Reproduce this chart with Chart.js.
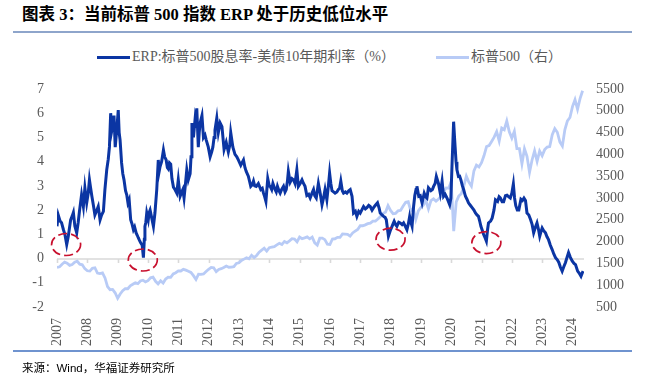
<!DOCTYPE html>
<html>
<head>
<meta charset="utf-8">
<script src="https://cdn.jsdelivr.net/npm/chart.js@4.4.1/dist/chart.umd.min.js"></script>
<style>
  html, body { margin: 0; padding: 0; background: #fff; }
  body { width: 645px; height: 381px; position: relative; overflow: hidden;
         font-family: "Liberation Serif", "Noto Sans CJK SC", serif; }
  #title { position: absolute; left: 22px; top: 5px; font-size: 16.5px; line-height: 20px;
           font-weight: bold; color: #000; white-space: nowrap; }
  .rule { position: absolute; left: 13px; width: 619px; height: 2px; }
  #legend { position: absolute; top: 49px; left: 97px; display: flex; align-items: center;
            font-size: 14px; line-height: 16px; color: #595959; white-space: nowrap; }
  #legend .item { display: flex; align-items: center; margin-right: 41px; }
  #legend .swatch { width: 33px; height: 3px; margin-right: 2px; }
  #chart { position: absolute; left: 0; top: 0; }
  #source { position: absolute; left: 22px; top: 361px; font-size: 11.5px; line-height: 14px;
            color: #000; font-family: "Liberation Sans", "Noto Sans CJK SC", sans-serif; }
</style>
</head>
<body>
<div id="title">图表 3：当前标普 500 指数 ERP 处于历史低位水平</div>
<div class="rule" style="top:31px;background:#8ea5cb"></div>
<div id="legend"></div>
<canvas id="chart" width="645" height="381"></canvas>
<div class="rule" style="top:350px;background:#6f93cf"></div>
<div id="source">来源：Wind，华福证券研究所</div>
<script>
// ERP (%), dates as decimal years
const erpDates = [
  2007.00, 2007.04, 2007.10, 2007.15, 2007.21, 2007.26, 2007.32, 2007.37, 2007.45, 2007.50,
  2007.54, 2007.59, 2007.65, 2007.70, 2007.74, 2007.81, 2007.87, 2007.92, 2007.98, 2008.03,
  2008.07, 2008.11, 2008.15, 2008.20, 2008.25, 2008.30, 2008.36, 2008.42, 2008.47, 2008.53,
  2008.58, 2008.64, 2008.69, 2008.73, 2008.77, 2008.81, 2008.84, 2008.88, 2008.92, 2008.97,
  2009.02, 2009.05, 2009.08, 2009.13, 2009.17, 2009.21, 2009.26, 2009.30, 2009.34, 2009.38,
  2009.43, 2009.47, 2009.52, 2009.56, 2009.61, 2009.65, 2009.68, 2009.72, 2009.76, 2009.81,
  2009.85, 2009.88, 2009.90, 2009.93, 2009.96, 2010.01, 2010.04, 2010.07, 2010.12, 2010.18,
  2010.23, 2010.29, 2010.34, 2010.37, 2010.40, 2010.45, 2010.51, 2010.55, 2010.60, 2010.64,
  2010.67, 2010.71, 2010.75, 2010.79, 2010.84, 2010.89, 2010.95, 2011.00, 2011.06, 2011.10,
  2011.15, 2011.19, 2011.23, 2011.28, 2011.33, 2011.39, 2011.42, 2011.45, 2011.50, 2011.55,
  2011.58, 2011.61, 2011.66, 2011.69, 2011.72, 2011.78, 2011.83, 2011.88, 2011.92, 2011.99,
  2012.05, 2012.10, 2012.14, 2012.18, 2012.21, 2012.27, 2012.32, 2012.38, 2012.44, 2012.51,
  2012.58, 2012.65, 2012.70, 2012.73, 2012.80, 2012.87, 2012.93, 2012.98, 2013.06, 2013.10,
  2013.15, 2013.20, 2013.24, 2013.31, 2013.35, 2013.39, 2013.44, 2013.48, 2013.52, 2013.57,
  2013.64, 2013.72, 2013.77, 2013.81, 2013.85, 2013.89, 2013.95, 2014.00, 2014.03, 2014.08,
  2014.12, 2014.19, 2014.23, 2014.27, 2014.32, 2014.36, 2014.41, 2014.47, 2014.52, 2014.56,
  2014.60, 2014.63, 2014.69, 2014.75, 2014.80, 2014.85, 2014.91, 2014.96, 2015.02, 2015.08,
  2015.13, 2015.18, 2015.24, 2015.30, 2015.35, 2015.41, 2015.46, 2015.50, 2015.55, 2015.62,
  2015.68, 2015.74, 2015.79, 2015.84, 2015.90, 2015.95, 2015.99, 2016.03, 2016.07, 2016.12,
  2016.17, 2016.23, 2016.28, 2016.32, 2016.36, 2016.41, 2016.45, 2016.51, 2016.56, 2016.62,
  2016.67, 2016.73, 2016.78, 2016.84, 2016.89, 2016.95, 2017.00, 2017.05, 2017.11, 2017.17,
  2017.22, 2017.28, 2017.33, 2017.39, 2017.44, 2017.50, 2017.57, 2017.62, 2017.66, 2017.72,
  2017.77, 2017.82, 2017.86, 2017.93, 2017.99, 2018.05, 2018.09, 2018.12, 2018.17, 2018.21,
  2018.27, 2018.32, 2018.38, 2018.43, 2018.48, 2018.54, 2018.59, 2018.63, 2018.67, 2018.71,
  2018.76, 2018.80, 2018.84, 2018.87, 2018.93, 2018.98, 2019.04, 2019.11, 2019.16, 2019.20,
  2019.25, 2019.33, 2019.38, 2019.42, 2019.47, 2019.51, 2019.58, 2019.64, 2019.70, 2019.75,
  2019.80, 2019.86, 2019.91, 2019.95, 2019.99, 2020.03, 2020.08, 2020.11, 2020.13, 2020.16,
  2020.19, 2020.24, 2020.28, 2020.32, 2020.37, 2020.41, 2020.47, 2020.52, 2020.57, 2020.63,
  2020.69, 2020.75, 2020.80, 2020.85, 2020.90, 2020.94, 2020.98, 2021.03, 2021.07, 2021.12,
  2021.16, 2021.20, 2021.23, 2021.30, 2021.35, 2021.41, 2021.46, 2021.53, 2021.58, 2021.62,
  2021.68, 2021.73, 2021.79, 2021.84, 2021.90, 2021.95, 2022.00, 2022.05, 2022.09, 2022.13,
  2022.18, 2022.23, 2022.30, 2022.35, 2022.40, 2022.45, 2022.50, 2022.56, 2022.62, 2022.67,
  2022.72, 2022.78, 2022.83, 2022.88, 2022.92, 2022.96, 2023.00, 2023.05, 2023.11, 2023.16,
  2023.21, 2023.27, 2023.33, 2023.38, 2023.44, 2023.50, 2023.55, 2023.60, 2023.66, 2023.71,
  2023.77, 2023.82, 2023.87, 2023.93, 2023.99, 2024.05, 2024.10, 2024.17, 2024.22, 2024.28,
  2024.32, 2024.35
];
const erpValues = [
  1.33, 1.80, 1.55, 1.48, 1.20, 1.00, 0.58, 0.90, 1.60, 1.75,
  1.90, 1.33, 1.06, 1.50, 1.95, 2.63, 2.15, 2.92, 2.30, 2.70,
  3.25, 2.90, 2.57, 2.20, 1.80, 1.95, 2.15, 1.60, 1.80, 1.95,
  2.85, 3.66, 4.10, 4.62, 6.00, 5.30, 5.50, 5.90, 4.60, 5.30,
  6.13, 5.20, 4.90, 3.95, 3.50, 3.25, 2.80, 2.63, 2.30, 2.43,
  1.60, 1.45, 1.19, 1.30, 1.06, 0.95, 0.86, 0.75, 0.65, 0.55,
  0.04, 0.80, 1.33, 1.50, 1.88, 1.60, 1.90, 2.00, 1.70, 1.33,
  1.88, 2.85, 4.07, 3.60, 3.80, 4.00, 4.48, 4.20, 4.07, 3.75,
  3.70, 3.95, 3.90, 3.30, 2.95, 2.85, 2.70, 3.25, 2.57, 2.70,
  2.85, 2.50, 3.00, 3.66, 3.25, 3.50, 4.20, 5.60, 5.00, 5.70,
  5.40, 6.20, 4.60, 5.20, 5.60, 5.90, 5.00, 5.10, 4.90, 4.60,
  4.20, 4.40, 4.60, 5.00, 5.30, 5.80, 5.20, 5.60, 5.45, 4.50,
  4.80, 4.40, 4.70, 5.20, 4.60, 4.30, 4.20, 4.07, 3.85, 3.95,
  4.07, 3.75, 3.60, 3.40, 3.20, 2.98, 3.05, 3.20, 3.00, 2.98,
  3.10, 2.85, 2.90, 2.70, 2.55, 2.36, 3.30, 3.00, 2.98, 2.85,
  3.10, 2.85, 2.75, 2.98, 2.80, 2.70, 2.85, 2.98, 2.75, 2.85,
  3.20, 3.60, 3.15, 3.30, 3.25, 3.10, 3.66, 2.98, 3.10, 3.25,
  3.10, 2.98, 2.60, 2.65, 2.50, 2.70, 2.85, 2.60, 2.50, 3.10,
  2.70, 2.22, 2.50, 2.85, 2.43, 3.00, 3.53, 3.10, 2.80, 2.75,
  2.70, 2.75, 2.85, 2.90, 3.20, 2.80, 2.70, 2.75, 2.70, 2.80,
  2.85, 2.57, 1.88, 1.95, 1.74, 1.95, 1.88, 2.00, 2.15, 2.05,
  2.10, 2.20, 2.15, 2.00, 2.10, 2.20, 2.30, 2.10, 1.88, 1.80,
  1.74, 1.70, 1.60, 0.92, 1.15, 1.33, 1.45, 1.54, 1.40, 1.33,
  1.50, 1.47, 1.40, 1.47, 1.35, 1.19, 1.45, 1.74, 1.50, 1.33,
  2.15, 2.60, 2.85, 2.98, 2.57, 2.60, 2.30, 2.70, 2.55, 2.50,
  2.92, 2.80, 2.85, 2.98, 3.10, 3.39, 3.10, 2.70, 3.20, 2.57,
  2.65, 2.50, 2.35, 2.22, 2.50, 3.95, 5.65, 5.00, 4.60, 4.00,
  3.66, 3.39, 3.40, 3.25, 3.00, 2.85, 2.57, 2.45, 2.30, 2.20,
  2.10, 2.00, 1.88, 1.80, 1.74, 1.55, 1.33, 1.15, 0.99, 0.85,
  0.72, 1.20, 1.47, 1.55, 1.67, 2.00, 2.43, 2.36, 2.55, 2.50,
  2.35, 2.35, 2.60, 2.62, 2.55, 2.50, 2.70, 3.08, 2.50, 2.18,
  2.00, 2.00, 2.45, 2.40, 2.50, 2.40, 1.88, 1.80, 1.60, 1.40,
  1.06, 1.30, 1.47, 1.20, 0.92, 1.10, 1.26, 1.15, 1.06, 0.90,
  0.78, 0.55, 0.37, 0.20, 0.04, -0.05, -0.16, -0.35, -0.52, -0.35,
  -0.16, 0.05, 0.25, 0.05, -0.10, -0.20, -0.25, -0.52, -0.60, -0.73,
  -0.60, -0.52
];

// S&P 500 level, one value per month from Jan 2007
const spxStart = 2007;
const spxValues = [
  1407, 1421, 1482, 1531, 1503, 1455, 1474, 1527, 1549, 1481, 1468,
  1379, 1331, 1323, 1386, 1400, 1280, 1267, 1283, 1166, 969, 896, 903,
  826, 700, 798, 873, 919, 919, 987, 1021, 1057, 1036, 1096, 1115,
  1074, 1104, 1169, 1187, 1089, 1031, 1102, 1049, 1141, 1183, 1181, 1258,
  1286, 1327, 1326, 1364, 1345, 1321, 1292, 1219, 1131, 1253, 1247, 1258,
  1312, 1366, 1408, 1398, 1310, 1362, 1379, 1407, 1441, 1412, 1416, 1426,
  1498, 1515, 1569, 1598, 1631, 1606, 1686, 1633, 1682, 1757, 1806, 1848,
  1783, 1859, 1872, 1884, 1924, 1960, 1931, 2003, 1972, 2018, 2068, 2059,
  1995, 2105, 2068, 2086, 2107, 2063, 2104, 1972, 1920, 2079, 2080, 2044,
  1940, 1932, 2060, 2065, 2097, 2099, 2174, 2171, 2168, 2126, 2199, 2239,
  2279, 2364, 2363, 2384, 2412, 2423, 2470, 2472, 2519, 2575, 2648, 2674,
  2824, 2714, 2641, 2648, 2705, 2718, 2816, 2902, 2914, 2712, 2760, 2507,
  2704, 2784, 2834, 2946, 2752, 2942, 2980, 2926, 2977, 3038, 3141, 3231,
  3226, 3380, 2240, 2912, 3044, 3100, 3271, 3500, 3363, 3270, 3622, 3756,
  3714, 3811, 3973, 4181, 4204, 4298, 4395, 4523, 4308, 4605, 4567, 4766,
  4516, 4374, 4530, 4132, 4132, 3785, 4130, 3955, 3586, 3872, 4080, 3840,
  4077, 3970, 4109, 4169, 4180, 4450, 4589, 4508, 4288, 4194, 4568, 4770,
  4846, 5096, 5254, 5036, 5278, 5460
];

// circled ERP lows
const lowDates = [2007.30, 2009.83, 2018.00, 2021.16];
const lowValues = [0.58, -0.06, 0.80, 0.66];

const seriesLabels = ['ERP:标普500股息率-美债10年期利率（%）', '标普500（右）'];

const tickFont = { family: '"Liberation Serif", "Times New Roman", serif', size: 14 };
const tickColor = '#595959';

// where the plot area sits on the page
const plotBox = { left: 57, top: 89, right: 584, bottom: 307 };

const zeroLine = {
  id: 'zeroLine',
  beforeDatasetsDraw(chart) {
    const { ctx, chartArea, scales: { x, y } } = chart;
    const py = Math.round(y.getPixelForValue(0));
    ctx.save();
    ctx.strokeStyle = '#d9d9d9';
    ctx.lineWidth = 1.6;
    ctx.beginPath();
    ctx.moveTo(chartArea.left, py);
    ctx.lineTo(chartArea.right, py);
    x.ticks.forEach(t => {
      const px = Math.round(x.getPixelForValue(t.value)) + 0.5;
      ctx.moveTo(px, py);
      ctx.lineTo(px, py + 4);
    });
    ctx.stroke();
    ctx.restore();
  }
};

const lowMarks = {
  id: 'lowMarks',
  afterDatasetsDraw(chart) {
    const { ctx, scales: { x, y } } = chart;
    ctx.save();
    ctx.strokeStyle = '#c8102e';
    ctx.lineWidth = 1.7;
    ctx.setLineDash([9, 4]);
    lowDates.forEach((d, i) => {
      ctx.beginPath();
      ctx.ellipse(x.getPixelForValue(d), y.getPixelForValue(lowValues[i]), 14.5, 11, 0, 0, Math.PI * 2);
      ctx.stroke();
    });
    ctx.restore();
  }
};

const chart = new Chart(document.getElementById('chart').getContext('2d'), {
  type: 'line',
  data: {
    datasets: [{
      label: seriesLabels[0],
      data: erpDates.map((d, i) => ({ x: d, y: erpValues[i] })),
      borderColor: '#0b35a3',
      borderWidth: 3,
      pointRadius: 0,
      yAxisID: 'y'
    }, {
      label: seriesLabels[1],
      data: spxValues.map((v, i) => ({ x: spxStart + i / 12, y: v })),
      borderColor: '#b8cbf6',
      borderWidth: 2.8,
      pointRadius: 0,
      yAxisID: 'y1'
    }]
  },
  options: {
    responsive: false,
    animation: false,
    layout: { padding: { left: 30, right: 20, top: 89, bottom: 30 } },
    plugins: { legend: { display: false }, tooltip: { enabled: false } },
    scales: {
      x: {
        type: 'linear',
        min: 2007,
        max: 2024.38,
        grid: { display: false, drawTicks: false },
        border: { display: false },
        ticks: {
          stepSize: 1, includeBounds: false, autoSkip: false,
          minRotation: 90, maxRotation: 90, padding: 11,
          color: tickColor, font: tickFont,
          callback: v => String(v)
        }
      },
      y: {
        position: 'left',
        min: -2, max: 7,
        grid: { display: false, drawTicks: false },
        border: { display: false },
        ticks: { stepSize: 1, padding: 13, color: tickColor, font: tickFont }
      },
      y1: {
        position: 'right',
        min: 500, max: 5500,
        grid: { display: false, drawTicks: false },
        border: { display: false },
        ticks: { stepSize: 500, padding: 12, color: tickColor, font: tickFont, callback: v => String(v) }
      }
    }
  },
  plugins: [zeroLine, lowMarks]
});

// nudge the layout padding so the plot area lands on plotBox
for (let i = 0; i < 3; i++) {
  const a = chart.chartArea;
  const p = chart.options.layout.padding;
  p.left += plotBox.left - a.left;
  p.top += plotBox.top - a.top;
  p.right += a.right - plotBox.right;
  p.bottom += a.bottom - plotBox.bottom;
  chart.update();
}

// legend built from the chart's datasets
const legend = document.getElementById('legend');
chart.data.datasets.forEach(ds => {
  const item = document.createElement('div');
  item.className = 'item';
  const sw = document.createElement('span');
  sw.className = 'swatch';
  sw.style.background = ds.borderColor;
  const txt = document.createElement('span');
  txt.textContent = ds.label;
  item.appendChild(sw);
  item.appendChild(txt);
  legend.appendChild(item);
});
</script>
</body>
</html>
